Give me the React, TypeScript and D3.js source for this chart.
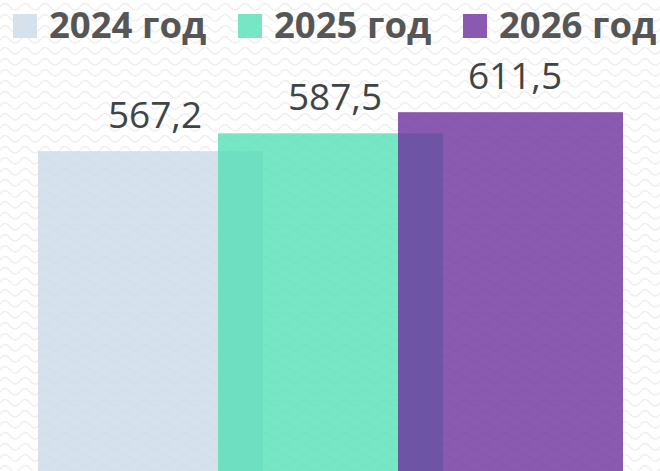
import React from "react";
import * as d3 from "d3";

const years = ["2024 год", "2025 год", "2026 год"];
const values = [567.2, 587.5, 611.5];
const labels = ["567,2", "587,5", "611,5"];
const colors = ["#cad9e8", "#54e0b5", "#6d309c"];
const legendColors = ["#d5e1ed", "#76e6c4", "#8a59b0"];

const W = 660;
const H = 471;

export default function App() {
  const x = d3.scalePoint<string>().domain(years).range([38, 398]);
  const step = 180;
  const barW = step * 1.25;
  const y = d3.scaleLinear().domain([0, 700]).range([650.3, 34.3]);

  const legendX = [13, 238, 463];

  return (
    <svg
      width={W}
      height={H}
      style={{ position: "absolute", left: 0, top: 0, display: "block" }}
      fontFamily="'Open Sans', sans-serif"
    >
      <defs>
        <pattern id="wave" width={20} height={11} patternUnits="userSpaceOnUse">
          <path
            d="M0,7 Q5,0 10,7 Q15,13 20,7"
            fill="none"
            stroke="#efefef"
            strokeWidth={1.5}
          />
        </pattern>
        <clipPath id="clip">
          <rect x={0} y={0} width={W} height={H} />
        </clipPath>
      </defs>
      <rect x={0} y={0} width={W} height={H} fill="#ffffff" />
      <rect x={0} y={0} width={W} height={H} fill="url(#wave)" />
      <g clipPath="url(#clip)">
        {years.map((yr, i) => (
          <rect
            key={yr}
            x={x(yr)!}
            y={y(values[i])}
            width={barW}
            height={y(0) - y(values[i])}
            fill={colors[i]}
            fillOpacity={0.8}
          />
        ))}
      </g>
      {years.map((yr, i) => (
        <text
          key={"l" + yr}
          x={x(yr)! + barW / 2 + 4.5}
          y={y(values[i]) - 23.5}
          textAnchor="middle"
          fontSize={37}
          fill="#3f4544"
        >
          {labels[i]}
        </text>
      ))}
      {years.map((yr, i) => (
        <g key={"lg" + yr}>
          <rect x={legendX[i]} y={14} width={24} height={24} fill={legendColors[i]} />
          <text
            x={legendX[i] + 36}
            y={38}
            fontSize={36.5}
            fontWeight={700}
            fill="#565656"
          >
            {yr}
          </text>
        </g>
      ))}
    </svg>
  );
}
